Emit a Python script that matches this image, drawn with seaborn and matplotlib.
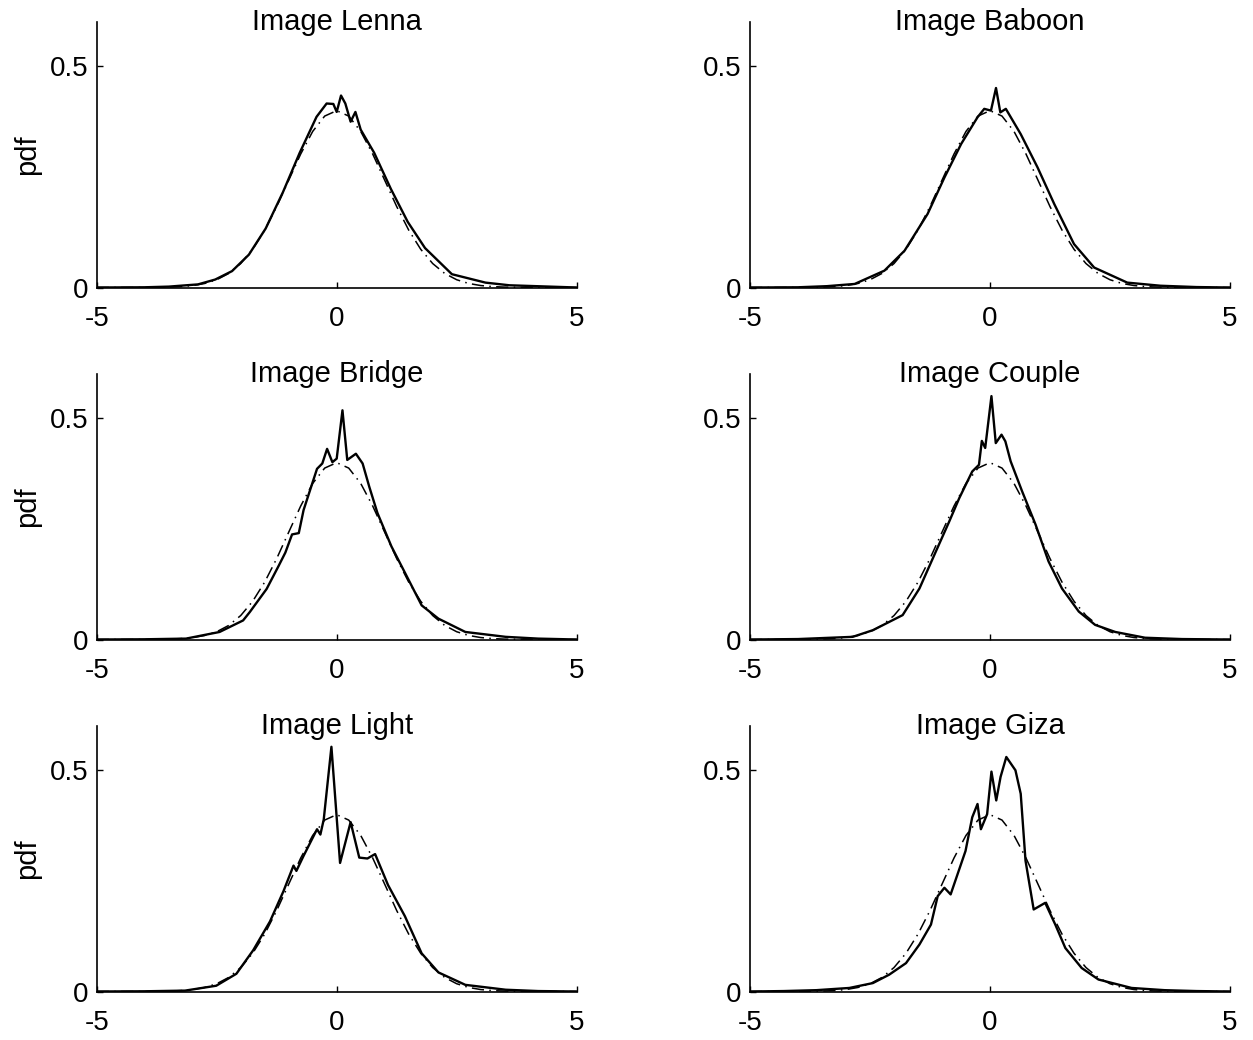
import matplotlib
matplotlib.use("Agg")
import matplotlib.pyplot as plt
import seaborn as sns

# ---------------- data ----------------
titles = ["Image Lenna", "Image Baboon", "Image Bridge",
          "Image Couple", "Image Light", "Image Giza"]

# reference Gaussian pdf (dash-dot), sampled every 0.25
ref_x = [-5.0, -4.75, -4.5, -4.25, -4.0, -3.75, -3.5, -3.25, -3.0, -2.75,
         -2.5, -2.25, -2.0, -1.75, -1.5, -1.25, -1.0, -0.75, -0.5, -0.25,
         0.0, 0.25, 0.5, 0.75, 1.0, 1.25, 1.5, 1.75, 2.0, 2.25,
         2.5, 2.75, 3.0, 3.25, 3.5, 3.75, 4.0, 4.25, 4.5, 4.75, 5.0]
ref_y = [0.0, 0.0, 0.0, 0.0, 0.0001, 0.0004, 0.0009, 0.0020, 0.0044, 0.0091,
         0.0175, 0.0317, 0.0540, 0.0863, 0.1295, 0.1826, 0.2420, 0.3011, 0.3521, 0.3867,
         0.3989, 0.3867, 0.3521, 0.3011, 0.2420, 0.1826, 0.1295, 0.0863, 0.0540, 0.0317,
         0.0175, 0.0091, 0.0044, 0.0020, 0.0009, 0.0004, 0.0001, 0.0, 0.0, 0.0, 0.0]

lenna_x = [-5, -4, -3.5, -2.89, -2.53, -2.18, -1.83, -1.48, -1.12, -0.77, -0.42,
           -0.21, -0.07, 0.0, 0.09, 0.18, 0.29, 0.39, 0.50, 0.78, 1.13, 1.48,
           1.84, 2.40, 3.10, 3.6, 4.16, 5]
lenna_y = [0, 0.0005, 0.002, 0.007, 0.018, 0.037, 0.074, 0.133, 0.215, 0.304, 0.385,
           0.415, 0.414, 0.396, 0.433, 0.415, 0.374, 0.396, 0.356, 0.304, 0.222, 0.148,
           0.089, 0.030, 0.011, 0.005, 0.003, 0]

baboon_x = [-5, -4, -3.4, -2.82, -2.20, -1.78, -1.30, -0.95, -0.60, -0.26, -0.12,
            0.02, 0.125, 0.215, 0.33, 0.64, 0.99, 1.34, 1.75, 2.17, 2.86, 3.55, 4.3, 5]
baboon_y = [0, 0.0005, 0.003, 0.008, 0.038, 0.083, 0.166, 0.248, 0.324, 0.384, 0.403,
            0.399, 0.450, 0.395, 0.403, 0.346, 0.271, 0.188, 0.098, 0.045, 0.011, 0.004, 0.001, 0]

bridge_x = [-5, -4, -3.14, -2.44, -1.95, -1.81, -1.46, -1.21, -1.07, -0.93, -0.79,
            -0.69, -0.41, -0.30, -0.20, -0.09, 0.0, 0.12, 0.22, 0.40, 0.54, 0.68,
            0.85, 1.14, 1.42, 1.77, 2.12, 2.68, 3.52, 4.2, 5]
bridge_y = [0, 0.0005, 0.002, 0.017, 0.043, 0.062, 0.114, 0.166, 0.196, 0.237, 0.240,
            0.292, 0.385, 0.397, 0.430, 0.400, 0.408, 0.517, 0.405, 0.419, 0.397, 0.344,
            0.285, 0.210, 0.151, 0.077, 0.047, 0.017, 0.006, 0.002, 0]

couple_x = [-5, -4, -2.86, -2.44, -1.82, -1.47, -1.13, -0.85, -0.64, -0.37, -0.23,
            -0.17, -0.10, 0.03, 0.12, 0.24, 0.32, 0.43, 0.67, 0.95, 1.22, 1.50,
            1.85, 2.19, 2.61, 3.23, 4.0, 5]
couple_y = [0, 0.001, 0.006, 0.021, 0.055, 0.115, 0.198, 0.266, 0.319, 0.379, 0.394,
            0.448, 0.432, 0.549, 0.443, 0.462, 0.447, 0.402, 0.334, 0.259, 0.176, 0.115,
            0.063, 0.033, 0.017, 0.004, 0.001, 0]

light_x = [-5, -4, -3.16, -2.51, -2.09, -1.74, -1.39, -1.11, -0.90, -0.84, -0.69,
           -0.41, -0.34, -0.27, -0.11, 0.07, 0.29, 0.47, 0.64, 0.80, 1.07, 1.42,
           1.77, 2.12, 2.68, 3.52, 4.2, 5]
light_y = [0, 0.0005, 0.002, 0.013, 0.040, 0.093, 0.158, 0.226, 0.284, 0.272, 0.306,
           0.366, 0.354, 0.388, 0.552, 0.290, 0.382, 0.302, 0.300, 0.310, 0.240, 0.170,
           0.086, 0.043, 0.015, 0.004, 0.001, 0]

giza_x = [-5, -4.3, -3.62, -2.93, -2.44, -2.10, -1.75, -1.47, -1.23, -1.09, -0.95,
          -0.82, -0.51, -0.37, -0.26, -0.19, -0.06, 0.03, 0.13, 0.22, 0.34, 0.53,
          0.64, 0.74, 0.91, 1.15, 1.36, 1.57, 1.91, 2.26, 2.95, 3.64, 4.3, 5]
giza_y = [0, 0.001, 0.003, 0.008, 0.019, 0.038, 0.064, 0.106, 0.151, 0.215, 0.234,
          0.219, 0.317, 0.393, 0.423, 0.366, 0.400, 0.496, 0.431, 0.484, 0.529, 0.499,
          0.446, 0.295, 0.185, 0.200, 0.151, 0.098, 0.053, 0.027, 0.008, 0.003, 0.001, 0]

series_x = [lenna_x, baboon_x, bridge_x, couple_x, light_x, giza_x]
series_y = [lenna_y, baboon_y, bridge_y, couple_y, light_y, giza_y]

x_ticks = [-5, 0, 5]
x_tick_labels = ["-5", "0", "5"]
y_ticks = [0, 0.5]
y_tick_labels = ["0", "0.5"]
y_label = "pdf"

# ---------------- style ----------------
sns.set_theme(style="ticks")
plt.rcParams["font.family"] = ["Liberation Sans", "DejaVu Sans"]
plt.rcParams["axes.unicode_minus"] = False

W, H = 1253, 1040
fig = plt.figure(figsize=(W / 100, H / 100), dpi=100)

col_left = [96.7, 750.0]
col_width = 480.0
row_bottom = [287.5, 639.5, 991.5]
ax_h = 266.0

for i in range(6):
    r, c = divmod(i, 2)
    rect = [col_left[c] / W, (H - row_bottom[r]) / H, col_width / W, ax_h / H]
    ax = fig.add_axes(rect)
    sns.lineplot(x=ref_x, y=ref_y, ax=ax, color="black", lw=1.1,
                 linestyle=(0, (8, 3.5, 1, 3.5)), estimator=None, sort=False)
    sns.lineplot(x=series_x[i], y=series_y[i], ax=ax, color="black", lw=1.7,
                 estimator=None, sort=False)
    ax.set_xlim(-5, 5)
    ax.set_ylim(0, 0.6)
    ax.set_xticks(x_ticks)
    ax.set_xticklabels(x_tick_labels)
    ax.set_yticks(y_ticks)
    ax.set_yticklabels(y_tick_labels)
    ax.tick_params(axis="both", direction="in", length=4, width=1.0,
                   colors="black", labelsize=20)
    ax.tick_params(axis="x", pad=13)
    ax.tick_params(axis="y", pad=6)
    for side in ["top", "right"]:
        ax.spines[side].set_visible(False)
    for side in ["left", "bottom"]:
        ax.spines[side].set_color("black")
        ax.spines[side].set_linewidth(1.2)
    ax.set_xlabel("")
    ax.set_ylabel(y_label if c == 0 else "", fontsize=21, labelpad=6, color="black")
    ax.set_title(titles[i], fontsize=21, y=1.0, pad=0, va="center", color="black")
    ax.set_facecolor("white")
    ax.grid(False)

fig.savefig("out.png", dpi=100, facecolor="white")
